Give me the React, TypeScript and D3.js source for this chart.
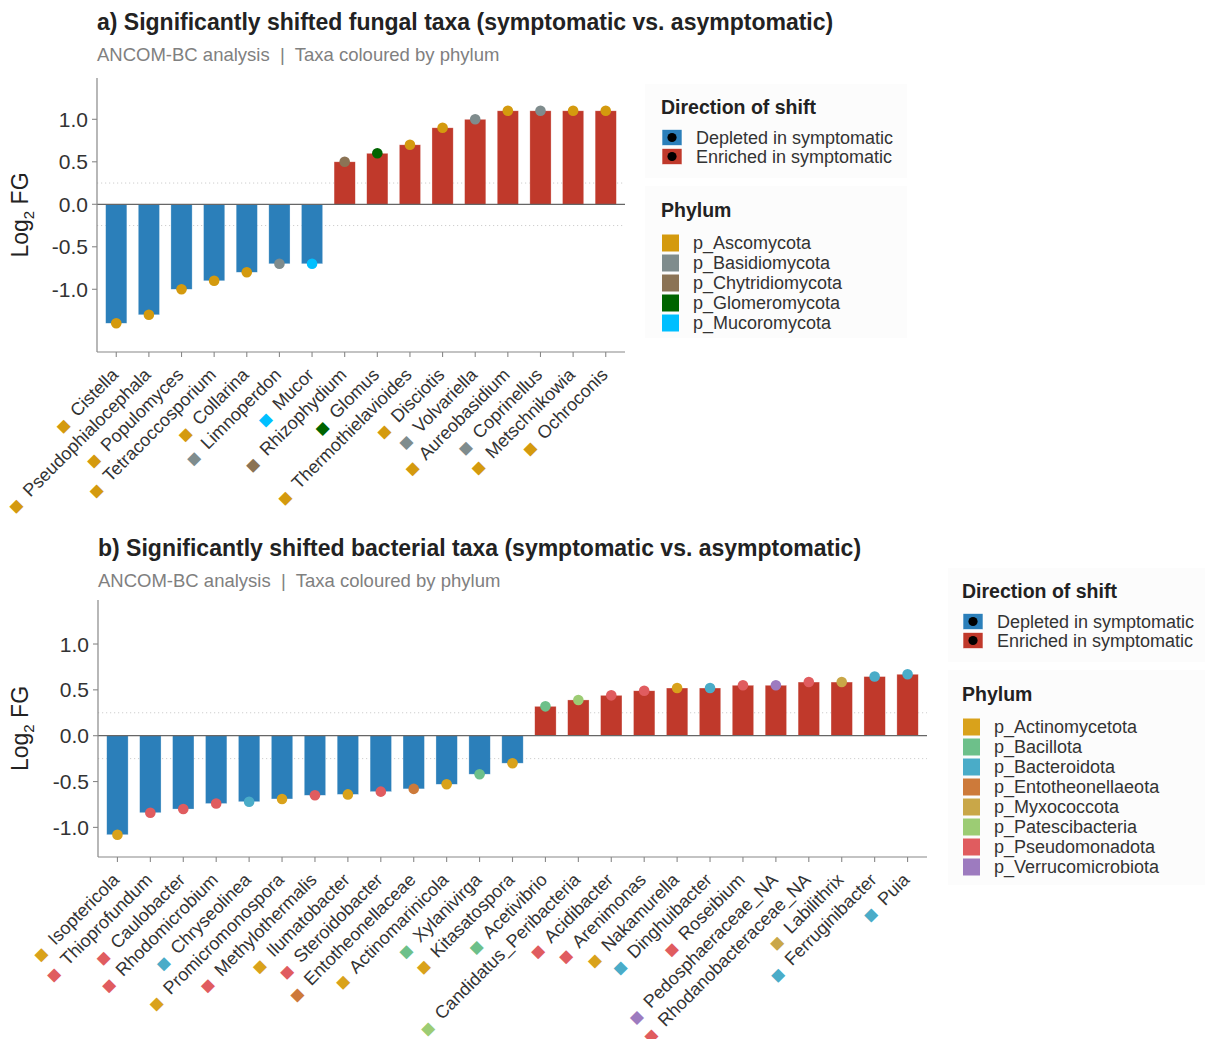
import React from 'react';
import * as d3 from 'd3';

// ---------- DATA ----------
const fungalTaxa = [
  'Cistella', 'Pseudophialocephala', 'Populomyces', 'Tetracoccosporium', 'Collarina',
  'Limnoperdon', 'Mucor', 'Rhizophydium', 'Glomus', 'Thermothielavioides', 'Disciotis',
  'Volvariella', 'Aureobasidium', 'Coprinellus', 'Metschnikowia', 'Ochroconis',
];
const fungalLog2FC = [-1.4, -1.3, -1.0, -0.9, -0.8, -0.7, -0.7, 0.5, 0.6, 0.7, 0.9, 1.0, 1.1, 1.1, 1.1, 1.1];
const fungalPhylum = [
  'p_Ascomycota', 'p_Ascomycota', 'p_Ascomycota', 'p_Ascomycota', 'p_Ascomycota',
  'p_Basidiomycota', 'p_Mucoromycota', 'p_Chytridiomycota', 'p_Glomeromycota', 'p_Ascomycota',
  'p_Ascomycota', 'p_Basidiomycota', 'p_Ascomycota', 'p_Basidiomycota', 'p_Ascomycota', 'p_Ascomycota',
];
const fungalPhyla = ['p_Ascomycota', 'p_Basidiomycota', 'p_Chytridiomycota', 'p_Glomeromycota', 'p_Mucoromycota'];
const fungalPhylumColors = ['#D49A0E', '#7F8C8D', '#8B7355', '#006400', '#00BFFF'];

const bacterialTaxa = [
  'Isoptericola', 'Thioprofundum', 'Caulobacter', 'Rhodomicrobium', 'Chryseolinea',
  'Promicromonospora', 'Methylothermalis', 'Ilumatobacter', 'Steroidobacter', 'Entotheonellaceae',
  'Actinomarinicola', 'Xylanivirga', 'Kitasatospora', 'Acetivibrio', 'Candidatus_Peribacteria',
  'Acidibacter', 'Arenimonas', 'Nakamurella', 'Dinghuibacter', 'Roseibium',
  'Pedosphaeraceae_NA', 'Rhodanobacteraceae_NA', 'Labilithrix', 'Ferruginibacter', 'Puia',
];
const bacterialLog2FC = [
  -1.08, -0.84, -0.80, -0.74, -0.72, -0.69, -0.65, -0.64, -0.61, -0.58, -0.53, -0.42, -0.30,
  0.32, 0.39, 0.44, 0.49, 0.52, 0.52, 0.55, 0.55, 0.585, 0.585, 0.645, 0.67,
];
const bacterialPhylum = [
  'p_Actinomycetota', 'p_Pseudomonadota', 'p_Pseudomonadota', 'p_Pseudomonadota', 'p_Bacteroidota',
  'p_Actinomycetota', 'p_Pseudomonadota', 'p_Actinomycetota', 'p_Pseudomonadota', 'p_Entotheonellaeota',
  'p_Actinomycetota', 'p_Bacillota', 'p_Actinomycetota', 'p_Bacillota', 'p_Patescibacteria',
  'p_Pseudomonadota', 'p_Pseudomonadota', 'p_Actinomycetota', 'p_Bacteroidota', 'p_Pseudomonadota',
  'p_Verrucomicrobiota', 'p_Pseudomonadota', 'p_Myxococcota', 'p_Bacteroidota', 'p_Bacteroidota',
];
const bacterialPhyla = [
  'p_Actinomycetota', 'p_Bacillota', 'p_Bacteroidota', 'p_Entotheonellaeota',
  'p_Myxococcota', 'p_Patescibacteria', 'p_Pseudomonadota', 'p_Verrucomicrobiota',
];
const bacterialPhylumColors = ['#D9A21B', '#6DC08A', '#4AACC8', '#CD7A3A', '#C9A748', '#9CCC74', '#E05C5F', '#9D7BBF'];

const directionLabels = ['Depleted in symptomatic', 'Enriched in symptomatic'];
const directionColors = ['#2B7FBA', '#C0392B'];
const yTicks = [-1.0, -0.5, 0.0, 0.5, 1.0];
const thresholds = [-0.25, 0.25];

const titleA = 'a) Significantly shifted fungal taxa (symptomatic vs. asymptomatic)';
const titleB = 'b) Significantly shifted bacterial taxa (symptomatic vs. asymptomatic)';
const subtitleText = 'ANCOM-BC analysis  |  Taxa coloured by phylum';

// ---------- RENDERING ----------
const FONT = '"Liberation Sans", Arial, Helvetica, sans-serif';
const fmt = d3.formatLocale({ decimal: '.', thousands: ',', grouping: [3], currency: ['', ''], minus: '-' }).format('.1f');

function Legend({ x, y, phyla, colors }) {
  const phyY = y + 103;
  return (
    <g fontFamily={FONT}>
      <text x={x} y={y} fontSize={19.5} fontWeight="bold" fill="#222">Direction of shift</text>
      {directionLabels.map((lab, i) => (
        <g key={lab} transform={`translate(${x + 1},${y + 23.5 + i * 19})`}>
          <rect x={0} y={-8} width={20} height={16} fill={directionColors[i]} stroke="#fff" strokeWidth={0.6} />
          <circle cx={10} cy={0} r={4.6} fill="#000" />
          <text x={34} y={6} fontSize={18} fill="#333">{lab}</text>
        </g>
      ))}
      <text x={x} y={phyY} fontSize={19.5} fontWeight="bold" fill="#222">Phylum</text>
      {phyla.map((p, i) => (
        <g key={p} transform={`translate(${x + 1},${phyY + 26 + i * 20})`}>
          <rect x={0} y={-8.5} width={17} height={17} fill={colors[i]} />
          <text x={31} y={6.3} fontSize={18} fill="#333">{p}</text>
        </g>
      ))}
    </g>
  );
}

function Panel({ title, taxa, values, phylum, phyla, colors, L }) {
  const x = d3.scalePoint<string>().domain(taxa).range([L.left, L.right]).padding(0.59);
  const y = d3.scaleLinear().domain(L.yDomain).range([L.bottom, L.top]);
  const color = d3.scaleOrdinal<string, string>().domain(phyla).range(colors);
  const bw = x.step() * 0.65;
  const y0 = y(0);
  return (
    <g fontFamily={FONT}>
      <text x={L.left} y={L.titleY} fontSize={23} fontWeight="bold" fill="#222">{title}</text>
      <text x={L.left} y={L.titleY + 31} fontSize={18.5} fill="#808080" style={{ whiteSpace: 'pre' }}>{subtitleText}</text>
      {thresholds.map((t) => (
        <line key={t} x1={L.left} x2={L.right} y1={y(t)} y2={y(t)} stroke="#c8c8c8" strokeWidth={0.9} strokeDasharray="1.2,2.8" />
      ))}
      {taxa.map((t, i) => {
        const v = values[i];
        return (
          <rect key={t} x={(x(t) as number) - bw / 2} width={bw}
            y={Math.min(y(v), y0)} height={Math.abs(y(v) - y0)}
            fill={directionColors[v < 0 ? 0 : 1]} stroke="#fff" strokeOpacity={0.5} strokeWidth={0.6} />
        );
      })}
      <line x1={L.left} x2={L.right} y1={y0} y2={y0} stroke="#666" strokeWidth={1.3} />
      {taxa.map((t, i) => (
        <circle key={t} cx={x(t) as number} cy={y(values[i])} r={5.3} fill={color(phylum[i])} />
      ))}
      {/* axes */}
      <line x1={L.left} x2={L.left} y1={L.top} y2={L.bottom} stroke="#888" strokeWidth={1.2} />
      <line x1={L.left} x2={L.right} y1={L.bottom} y2={L.bottom} stroke="#888" strokeWidth={1.2} />
      {yTicks.map((t) => (
        <g key={t}>
          <line x1={L.left - 5} x2={L.left} y1={y(t)} y2={y(t)} stroke="#888" strokeWidth={1.1} />
          <text x={L.left - 9} y={y(t)} dy="0.36em" textAnchor="end" fontSize={21} fill="#333">{fmt(t)}</text>
        </g>
      ))}
      {taxa.map((t, i) => {
        const px = x(t) as number;
        return (
          <g key={t}>
            <line x1={px} x2={px} y1={L.bottom} y2={L.bottom + 5} stroke="#888" strokeWidth={1.1} />
            <text transform={`translate(${px + 3},${L.bottom + 24}) rotate(-45)`} textAnchor="end" fontSize={18} fill="#333" style={{ whiteSpace: 'pre' }}>
              <tspan fill={color(phylum[i])} fontSize={13} fontFamily="DejaVu Sans">■</tspan>
              <tspan>  {t}</tspan>
            </text>
          </g>
        );
      })}
      <text transform={`translate(${L.ylabX},${(L.top + L.bottom) / 2}) rotate(-90)`} textAnchor="middle" fontSize={23} fill="#222">
        <tspan>Log</tspan>
        <tspan fontSize={15} dy={6}>2</tspan>
        <tspan dy={-6}> FG</tspan>
      </text>
    </g>
  );
}

const layoutA = { left: 97, right: 625, top: 78, bottom: 352, yDomain: [-1.738, 1.486], titleY: 30, ylabX: 28 };
const layoutB = { left: 98, right: 927, top: 600, bottom: 857, yDomain: [-1.323, 1.48], titleY: 556, ylabX: 28 };

export default function App() {
  return (
    <svg width={1205} height={1039} style={{ position: 'absolute', left: 0, top: 0, background: '#fff' }}>
      <rect x={0} y={0} width={1205} height={1039} fill="#fff" />
      <rect x={645} y={84} width={262} height={94} fill="#fcfcfc" />
      <rect x={645} y={186} width={262} height={152} fill="#fcfcfc" />
      <rect x={948} y={568} width={257} height={94} fill="#fcfcfc" />
      <rect x={948} y={670} width={257} height={215} fill="#fcfcfc" />
      <Panel title={titleA} taxa={fungalTaxa} values={fungalLog2FC} phylum={fungalPhylum}
        phyla={fungalPhyla} colors={fungalPhylumColors} L={layoutA} />
      <Legend x={661} y={114} phyla={fungalPhyla} colors={fungalPhylumColors} />
      <Panel title={titleB} taxa={bacterialTaxa} values={bacterialLog2FC} phylum={bacterialPhylum}
        phyla={bacterialPhyla} colors={bacterialPhylumColors} L={layoutB} />
      <Legend x={962} y={598} phyla={bacterialPhyla} colors={bacterialPhylumColors} />
    </svg>
  );
}
